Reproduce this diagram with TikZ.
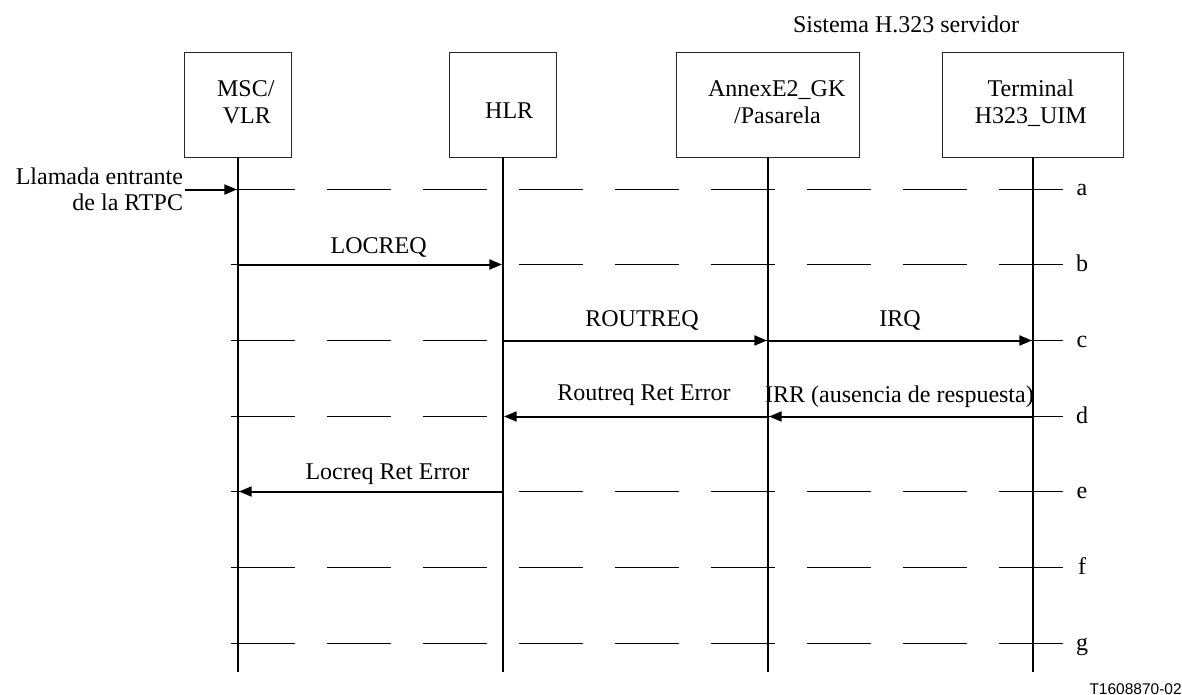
\documentclass[tikz,border=0pt]{standalone}
\usepackage{fontspec}
\setmainfont{Liberation Serif}
\newfontfamily\codefont{Liberation Sans}
\usetikzlibrary{arrows.meta}
\begin{document}
\begin{tikzpicture}[x=1pt,y=-1pt,
  every node/.style={inner sep=0pt, outer sep=0pt},
  lbl/.style={font=\fontsize{24}{27}\selectfont, anchor=base},
  box/.style={draw=black!85, line width=1.3pt, minimum height=105pt},
  life/.style={line width=2pt},
  gridline/.style={line width=1.2pt, dash pattern=on 64pt off 32pt},
  msg/.style={line width=2pt, shorten >=1pt, -{Triangle[length=12.7pt,width=10pt]}},
]
\useasboundingbox (0,0) rectangle (1182,695);

% header
\node[lbl] (sys) at (906,33) {Sistema H.323 servidor};

% boxes
\node[box, minimum width=107pt] (msc)  at (238,105) {};
\node[box, minimum width=107pt] (hlr)  at (503,105) {};
\node[box, minimum width=183pt] (gk)   at (768,105) {};
\node[box, minimum width=181pt] (term) at (1033,105) {};

\node[lbl] (msc1) at (245.8,96.7) {MSC/};
\node[lbl] (msc2) at (246.8,124) {VLR};
\node[lbl] (hlr1) at (509.2,118.3) {HLR};
\node[lbl] (gk1) at (776.7,96.7) {AnnexE2\_GK};
\node[lbl] (gk2) at (777.5,124) {/Pasarela};
\node[lbl] (term1) at (1030.8,96.7) {Terminal};
\node[lbl] (term2) at (1030.8,124) {H323\_UIM};

% rows
\coordinate (ra) at (0,189.5);
\coordinate (rb) at (0,264.5);
\coordinate (rc) at (0,340.5);
\coordinate (rd) at (0,416.5);
\coordinate (re) at (0,491.5);
\coordinate (rf) at (0,567.5);
\coordinate (rg) at (0,643.5);
\coordinate (gl) at (231,0);
\coordinate (gr) at (1063,0);
\coordinate (bot) at (0,672);

\foreach \r/\t in {ra/a,rb/b,rc/c,rd/d,re/e,rf/f,rg/g}{
  \draw[gridline] (gl |- \r) -- (gr |- \r);
  \node[lbl, yshift=-6.5pt] (lab\t) at (1082,0 |- \r) {\t};
}

% lifelines
\foreach \n in {msc,hlr,gk,term}{
  \draw[life] (\n.south) -- (\n.south |- bot);
}

% incoming call
\node[lbl, anchor=base east] (in1) at (183,184) {Llamada entrante};
\node[lbl, anchor=base east] (in2) at (183,210) {de la RTPC};
\coordinate (src) at (185,189.5);
\draw[msg] (src) -- (msc |- ra);

% messages
\draw[msg] (msc |- rb) -- (hlr |- rb);
\node[lbl] (m1) at (378.7,253.3) {LOCREQ};

\draw[msg] (hlr |- rc) -- (gk |- rc);
\node[lbl] (m2) at (642,326.7) {ROUTREQ};
\draw[msg] (gk |- rc) -- (term |- rc);
\node[lbl] (m3) at (900,326.7) {IRQ};

\draw[msg] (term |- rd) -- (gk |- rd);
\node[lbl] (m4) at (899.5,402) {IRR (ausencia de respuesta)};
\draw[msg] (gk |- rd) -- (hlr |- rd);
\node[lbl] (m5) at (644,400.7) {Routreq Ret Error};

\draw[msg] (hlr |- re) -- (msc |- re);
\node[lbl] (m6) at (387.5,479.3) {Locreq Ret Error};

% figure id
\node[anchor=base east, font=\codefont\fontsize{15.5}{18}\selectfont] (fid) at (1181.7,694) {T1608870-02};
\end{tikzpicture}
\end{document}
